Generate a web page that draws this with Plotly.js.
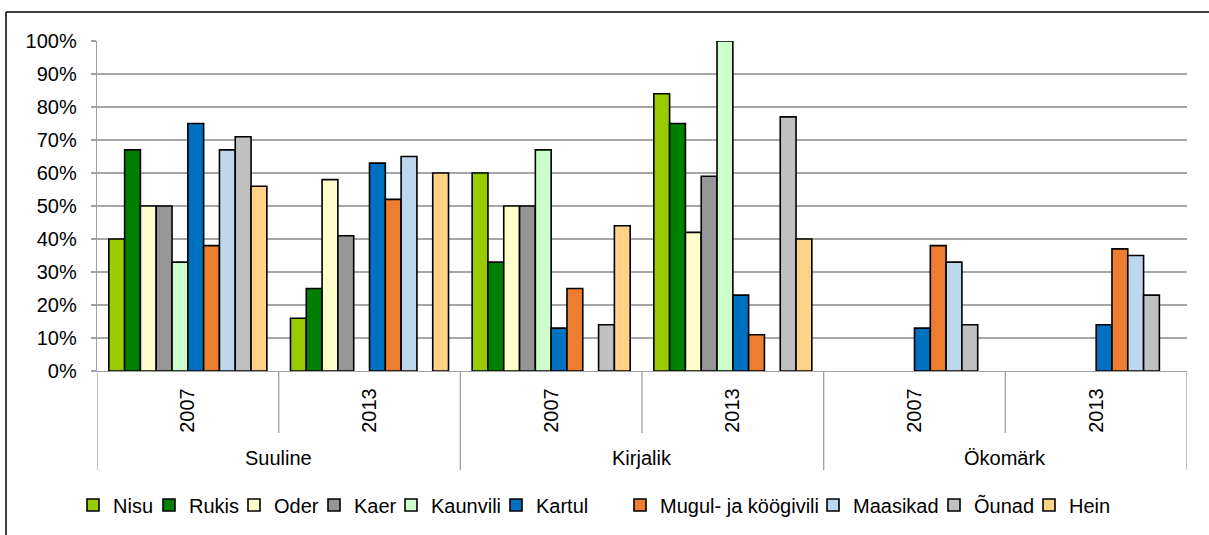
<!DOCTYPE html>
<html>
<head>
<meta charset="utf-8">
<script src="https://cdn.plot.ly/plotly-3.0.1.min.js"></script>
<style>
  html, body { margin: 0; padding: 0; background: #fff; overflow: hidden; }
  #chart { width: 1209px; height: 535px; }
</style>
</head>
<body>
<div id="chart"></div>
<script>
// Categories (group, year)
const groups = ["Suuline", "Kirjalik", "Ökomärk"];
const years = ["2007", "2013"];
const categories = ["Suuline 2007", "Suuline 2013", "Kirjalik 2007", "Kirjalik 2013", "Ökomärk 2007", "Ökomärk 2013"];
const yearLabels = ["2007", "2013", "2007", "2013", "2007", "2013"];

// Series names
const seriesNames = ["Nisu", "Rukis", "Oder", "Kaer", "Kaunvili", "Kartul", "Mugul- ja köögivili", "Maasikad", "Õunad", "Hein"];

// Series values (%), order follows categories
const nisu     = [40, 16, 60, 84, null, null];
const rukis    = [67, 25, 33, 75, null, null];
const oder     = [50, 58, 50, 42, null, null];
const kaer     = [50, 41, 50, 59, null, null];
const kaunvili = [33, null, 67, 100, null, null];
const kartul   = [75, 63, 13, 23, 13, 14];
const mugul    = [38, 52, 25, 11, 38, 37];
const maasikad = [67, 65, null, null, 33, 35];
const ounad    = [71, null, 14, 77, 14, 23];
const hein     = [56, 60, 44, 40, null, null];

const seriesValues = [nisu, rukis, oder, kaer, kaunvili, kartul, mugul, maasikad, ounad, hein];
const seriesColors = ["#99CC00", "#008000", "#FFFFCC", "#969696", "#CCFFCC", "#0070C0", "#ED7D31", "#BDD7EE", "#C0C0C0", "#FFD285"];

// Legend entry left edges (px) as laid out in the reference
const legendLeft = [92, 168, 253, 333, 410, 515, 639, 832, 953, 1048];

const FONT = "Liberation Sans, Arial, sans-serif";
const FS = 20;

const legendId = i => (i === 0 ? "legend" : "legend" + (i + 1));

const traces = seriesNames.map((name, i) => ({
  type: "bar",
  name: name,
  x: categories,
  y: seriesValues[i],
  legend: legendId(i),
  marker: { color: seriesColors[i], line: { color: "#000000", width: 1.6 } },
  hoverinfo: "name+y"
}));

// Plot area geometry (pixels) used to express divider lengths in paper units
const plotTop = 41, plotBottom = 371;
const plotH = plotBottom - plotTop;
const longDrop = -(470 - plotBottom) / plotH;
const shortDrop = -(433 - plotBottom) / plotH;

const shapes = [];
for (let k = 0; k <= categories.length; k++) {
  const isGroupEdge = (k % years.length === 0);
  shapes.push({
    type: "line", xref: "x", yref: "paper",
    x0: k - 0.5, x1: k - 0.5, y0: 0, y1: isGroupEdge ? longDrop : shortDrop,
    line: { color: "#A0A0A0", width: 1.3 }
  });
}
// outer chart border (left and top edges visible, rest outside the picture)
shapes.push({
  type: "line", xref: "paper", yref: "paper",
  x0: (6 - 97) / 1090, x1: (6 - 97) / 1090,
  y0: (plotBottom - 600) / plotH, y1: (plotBottom - 12) / plotH,
  line: { color: "#000000", width: 1.5 }
});
shapes.push({
  type: "line", xref: "paper", yref: "paper",
  x0: (6 - 97) / 1090, x1: (1400 - 97) / 1090,
  y0: (plotBottom - 12) / plotH, y1: (plotBottom - 12) / plotH,
  line: { color: "#000000", width: 1.5 }
});

const annotations = groups.map((g, gi) => ({
  xref: "x", yref: "paper",
  x: gi * years.length + (years.length - 1) / 2,
  y: -(458 - plotBottom) / plotH,
  text: g, showarrow: false,
  xanchor: "center", yanchor: "middle",
  font: { family: FONT, size: FS, color: "#000" }
}));

const layout = {
  width: 1209, height: 535,
  margin: { l: 97, r: 22, t: plotTop, b: 535 - plotBottom, autoexpand: false },
  paper_bgcolor: "#ffffff", plot_bgcolor: "#ffffff",
  barmode: "group", bargap: 0.13, bargroupgap: 0,
  font: { family: FONT, size: FS, color: "#000" },
  xaxis: {
    type: "category",
    tickmode: "array", tickvals: categories, ticktext: yearLabels,
    tickangle: -90, ticks: "", ticklabelstandoff: 8,
    showline: true, linecolor: "#A0A0A0", linewidth: 1.3,
    showgrid: false, zeroline: false, automargin: false,
    range: [-0.5, categories.length - 0.5],
    tickfont: { family: FONT, size: FS, color: "#000" }
  },
  yaxis: {
    range: [0, 100], dtick: 10, ticksuffix: "%",
    ticks: "outside", ticklen: 5, tickcolor: "#A0A0A0", tickwidth: 1.3,
    showline: true, linecolor: "#A0A0A0", linewidth: 1.3,
    showgrid: true, gridcolor: "#A6A6A6", gridwidth: 1.3,
    zeroline: false, ticklabelstandoff: 10, automargin: false,
    tickfont: { family: FONT, size: FS, color: "#000" }
  },
  shapes: shapes,
  annotations: annotations,
  showlegend: true
};

seriesNames.forEach((name, i) => {
  layout[legendId(i)] = {
    orientation: "h", xref: "container", yref: "container",
    x: (legendLeft[i] - 19) / 1209, xanchor: "left",
    y: 1 - 505 / 535, yanchor: "middle",
    bgcolor: "rgba(0,0,0,0)",
    font: { family: FONT, size: FS, color: "#000" },
    itemclick: false
  };
});

Plotly.newPlot("chart", traces, layout, { displayModeBar: false, staticPlot: true });
</script>
</body>
</html>
